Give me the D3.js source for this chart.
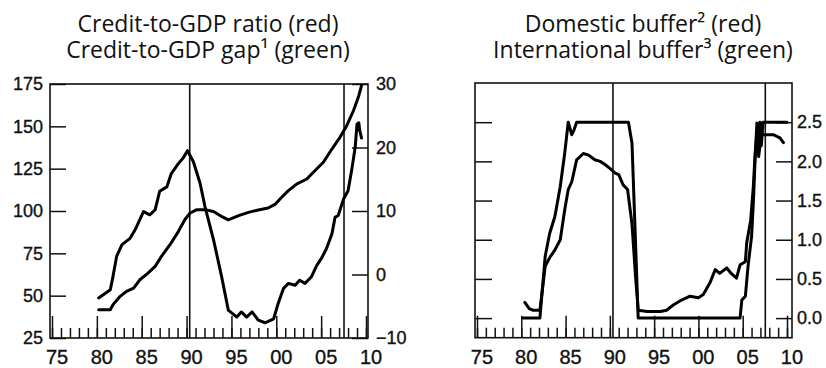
<!DOCTYPE html>
<html><head><meta charset="utf-8">
<script src="https://cdn.jsdelivr.net/npm/d3@7"></script>
<style>
html,body{margin:0;padding:0;background:#fff;}
svg{display:block;}
.title{font-family:"Open Sans",sans-serif;font-size:23px;fill:#111;}
.ax text{font-family:"Liberation Sans",Arial,sans-serif;font-size:18px;fill:#111;stroke:#111;stroke-width:0.35;}
.ax .domain{display:none;}
.ax line{stroke:#111;stroke-width:1.5;}
.xl text{font-size:20px;}
</style></head><body>
<script>
// ---- data ----
const years5 = [1975,1980,1985,1990,1995,2000,2005,2010];
const yearLabels = ["75","80","85","90","95","00","05","10"];
const crisisYears = [1990.35, 2007.55];

const leftTicks = [25,50,75,100,125,150,175];
const rightTicks = [-10,0,10,20,30];
const bufferTicks = [0,0.5,1.0,1.5,2.0,2.5];

const titlesLeft = ["Credit-to-GDP ratio (red)", "Credit-to-GDP gap\u00B9 (green)"];
const titlesRight = ["Domestic buffer\u00B2 (red)", "International buffer\u00B3 (green)"];

// Credit-to-GDP ratio (left axis, %)
const ratioYears = [1980.2,1981.5,1981.8,1982.6,1983.3,1984.1,1984.8,1985.7,1986.5,1987.2,1988.15,1989.1,1989.8,1990.4,1991.1,1992.05,1993.0,1994.0,1994.65,1995.8,1996.9,1998.0,1999.1,1999.9,2000.6,2001.35,2002.3,2003.4,2004.3,2005.25,2006.2,2007.1,2007.85,2008.6,2009.2,2009.5];
const ratioValues = [41.7,41.7,44.7,49.6,52.5,54.5,59.4,63.3,67.3,73.2,80.1,88,94.8,98.8,100.7,100.7,99.7,96.5,94.8,97.3,99.2,100.6,101.8,104.1,108.1,112,116,118.9,123.8,128.8,136.6,143.5,150.4,159.2,168.1,174];

// Credit-to-GDP gap (right axis, pp)
const gapYears = [1980.2,1981.5,1981.8,1982.2,1982.8,1983.7,1984.25,1985.2,1985.9,1986.5,1987.0,1987.8,1988.3,1989.1,1989.6,1990.1,1990.75,1991.5,1992.05,1993.0,1993.9,1994.65,1995.6,1996.1,1996.7,1997.3,1998.0,1998.75,1999.7,2000.2,2000.8,2001.35,2002.1,2002.6,2003.2,2003.9,2004.5,2005.1,2005.6,2006.2,2006.55,2006.9,2007.5,2008.0,2008.4,2008.8,2009.0,2009.1,2009.2,2009.3,2009.5];
const gapValues = [-3.7,-2.4,-0.3,2.85,4.7,5.7,7.0,9.9,9.4,10.2,13.1,13.8,15.9,17.5,18.3,19.5,17.8,14.4,10.7,5.5,-0.3,-5.6,-6.7,-5.9,-6.7,-5.9,-7.2,-7.6,-7.0,-4.6,-2.2,-1.4,-1.7,-0.9,-1.4,-0.4,1.4,2.7,4.1,6.4,9.0,9.3,11.9,13.2,16.4,20.1,23.7,22.8,23.9,22.7,21.5];

// Domestic buffer
const domYears = [1980.2,1982.1,1982.7,1983.2,1983.8,1984.4,1984.9,1985.3,1985.7,1985.95,1986.25,1992.1,1992.5,1993.2,2004.7,2004.9,2005.3,2005.6,2006.0,2006.2,2006.4,2006.6,2006.8,2006.95,2007.1,2007.3,2010.0];
const domValues = [0,0,0.79,1.08,1.3,1.68,2.1,2.5,2.34,2.4,2.5,2.5,2.23,0,0,0.23,0.28,0.66,1.04,1.47,2.02,2.49,2.15,2.5,2.2,2.5,2.5];

// International buffer
const intYears = [1980.4,1980.9,1981.35,1982.1,1982.7,1983.2,1983.8,1984.4,1984.9,1985.3,1985.7,1986.25,1987.0,1987.6,1988.3,1988.9,1989.45,1990.0,1990.6,1991.0,1991.5,1992.0,1992.5,1992.9,1993.2,1994.2,1995.7,1996.4,1997.2,1998.1,1999.05,2000.0,2000.55,2001.3,2001.9,2002.4,2003.2,2003.7,2004.3,2004.7,2005.3,2005.45,2005.9,2006.2,2006.4,2006.6,2006.8,2007.1,2007.7,2008.45,2009.2,2009.6];
const intValues = [0.2,0.12,0.1,0.1,0.66,0.77,0.87,1.0,1.38,1.64,1.74,2.02,2.1,2.08,2.02,2.0,1.96,1.91,1.85,1.83,1.70,1.64,1.2,0.53,0.1,0.085,0.085,0.1,0.17,0.23,0.28,0.26,0.30,0.45,0.62,0.57,0.64,0.57,0.51,0.68,0.72,0.96,1.25,1.68,2.1,2.36,2.06,2.34,2.34,2.34,2.3,2.24];

// ---- drawing ----
const W = 826, H = 368;
const svg = d3.select("body").append("svg").attr("width", W).attr("height", H);
const allYears = d3.range(1975, 2011);

function title(cx, lines) {
  lines.forEach((s, i) => svg.append("text").attr("class","title")
    .attr("x", cx).attr("y", i === 0 ? 32 : 57.5).attr("text-anchor","middle").text(s));
}

function bottomAxis(x, y0) {
  svg.append("g").attr("class","ax").attr("transform",`translate(0,${y0})`)
    .call(d3.axisBottom(x).tickValues(allYears).tickSize(-10).tickFormat(""));
  const g = svg.append("g").attr("class","ax xl").attr("transform",`translate(0,${y0})`)
    .call(d3.axisBottom(x).tickValues(years5).tickSize(-22).tickPadding(12)
      .tickFormat((d,i) => yearLabels[i]));
  g.selectAll("text").attr("x", x(1975.5) - x(1975));
}

function frame(x0, x1, y0, y1) {
  svg.append("rect").attr("x",x0).attr("y",y0).attr("width",x1-x0).attr("height",y1-y0)
    .attr("fill","none").attr("stroke","#111").attr("stroke-width",1.6);
}

function series(x, y, xs, vs) {
  svg.append("path").datum(xs.map((d,i)=>[d,vs[i]]))
    .attr("fill","none").attr("stroke","#000").attr("stroke-width",3)
    .attr("stroke-linejoin","round").attr("stroke-linecap","round")
    .attr("d", d3.line().x(d=>x(d[0])).y(d=>y(d[1])));
}

// Left panel
title(208, titlesLeft);
const xL = d3.scaleLinear().domain([1975,2010]).range([52,366]);
const yL = d3.scaleLinear().domain([25,175]).range([338,84]);
const yR = d3.scaleLinear().domain([-10,30]).range([338,84]);
svg.append("g").attr("class","ax").attr("transform","translate(50,0)")
  .call(d3.axisLeft(yL).tickValues(leftTicks).tickSize(-16).tickPadding(7));
svg.append("g").attr("class","ax").attr("transform","translate(368,0)")
  .call(d3.axisRight(yR).tickValues(rightTicks).tickSize(-16).tickPadding(8));
bottomAxis(xL, 338);
crisisYears.forEach(c => svg.append("line").attr("x1",xL(c)).attr("x2",xL(c)).attr("y1",84).attr("y2",338)
  .attr("stroke","#111").attr("stroke-width",1.6));
frame(50, 368, 84, 338);
series(xL, yL, ratioYears, ratioValues);
series(xL, yR, gapYears, gapValues);

// Right panel
title(643, titlesRight);
const xB = d3.scaleLinear().domain([1975,2010]).range([477,787]);
const yB = d3.scaleLinear().domain([-0.25,3.0]).range([337.7,83]);
svg.append("g").attr("class","ax").attr("transform","translate(475,0)")
  .call(d3.axisLeft(yB).tickValues(bufferTicks).tickSize(-17).tickFormat(""));
svg.append("g").attr("class","ax").attr("transform","translate(792,0)")
  .call(d3.axisRight(yB).tickValues(bufferTicks).tickSize(-16).tickPadding(5).tickFormat(d3.format(".1f")));
bottomAxis(xB, 337.7);
crisisYears.forEach(c => svg.append("line").attr("x1",xB(c)).attr("x2",xB(c)).attr("y1",83).attr("y2",337.7)
  .attr("stroke","#111").attr("stroke-width",1.6));
frame(475, 792, 83, 337.7);
series(xB, yB, domYears, domValues);
series(xB, yB, intYears, intValues);
</script>
</body></html>
